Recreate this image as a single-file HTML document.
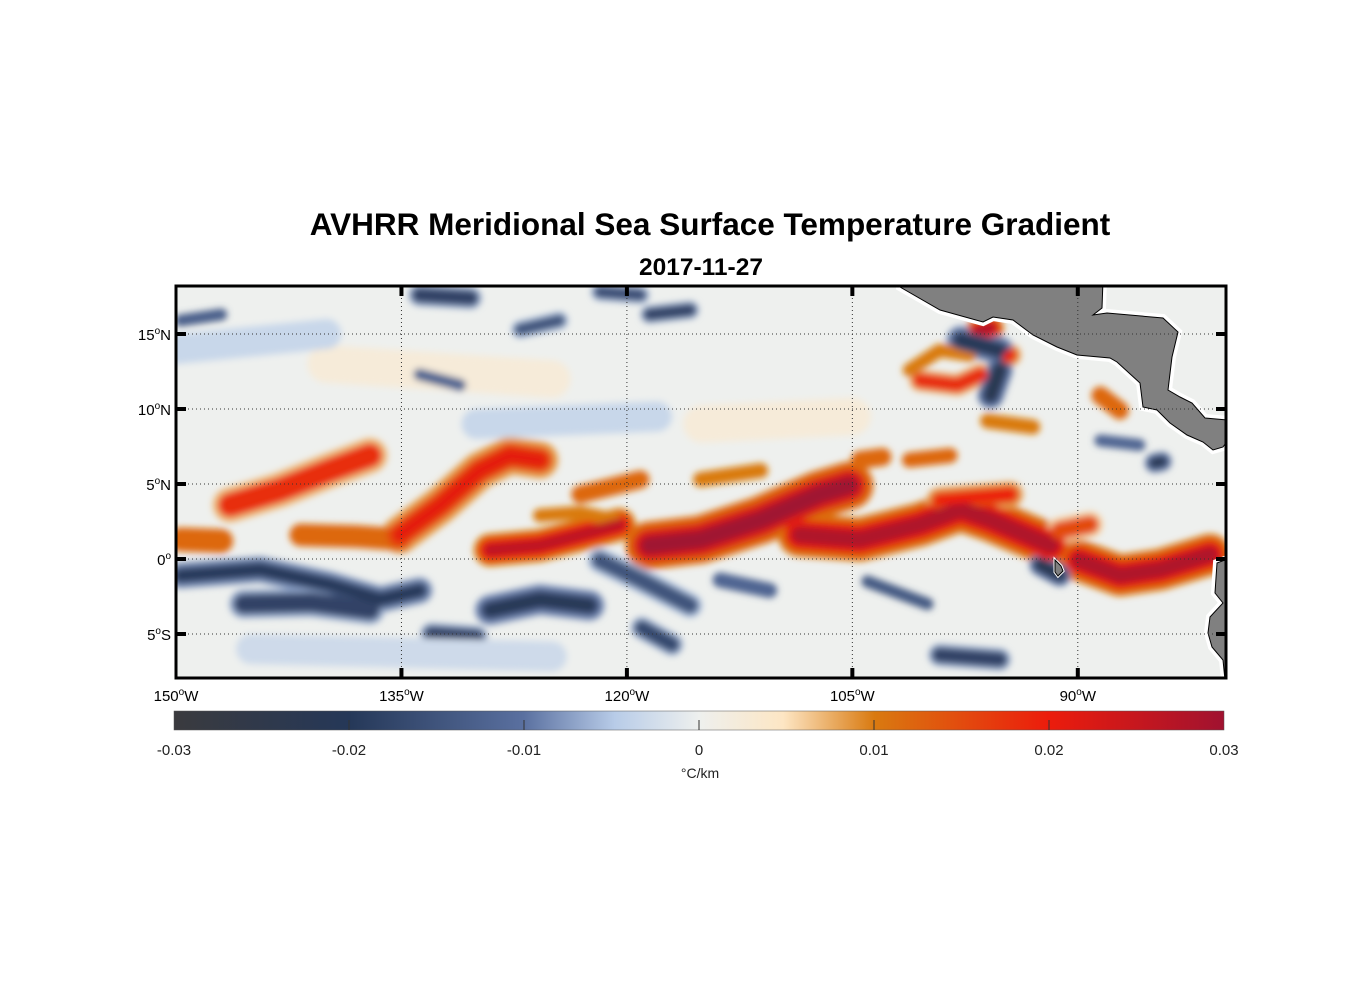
<!DOCTYPE html>
<html><head><meta charset="utf-8">
<style>
body{margin:0;background:#fff;width:1356px;height:1000px;overflow:hidden;font-family:"Liberation Sans",Arial,sans-serif;}
svg text{font-family:"Liberation Sans",Arial,sans-serif;}
</style></head>
<body>
<svg id="chart" width="1356" height="1000" xmlns="http://www.w3.org/2000/svg">
<defs>
<filter id="blur" x="-5%" y="-5%" width="110%" height="110%"><feGaussianBlur stdDeviation="3.5"/></filter>
<clipPath id="mapclip"><rect x="176" y="286" width="1050" height="392"/></clipPath>
<linearGradient id="cbgrad" x1="0" x2="1" y1="0" y2="0">
<stop offset="0" stop-color="#3a3a3e"/>
<stop offset="0.167" stop-color="#253858"/>
<stop offset="0.333" stop-color="#5a70a0"/>
<stop offset="0.42" stop-color="#b8cce8"/>
<stop offset="0.5" stop-color="#eef0ee"/>
<stop offset="0.58" stop-color="#fde6c4"/>
<stop offset="0.667" stop-color="#d97a10"/>
<stop offset="0.833" stop-color="#ec1c0c"/>
<stop offset="1" stop-color="#a01230"/>
</linearGradient>
</defs>
<text x="710" y="235" text-anchor="middle" font-size="31.5" font-weight="bold">AVHRR Meridional Sea Surface Temperature Gradient</text>
<text x="701" y="275" text-anchor="middle" font-size="24.5" font-weight="bold">2017-11-27</text>
<g id="map" clip-path="url(#mapclip)">
<rect x="176" y="286" width="1050" height="392" fill="#eef0ee"/>
<g id="fronts" filter="url(#blur)"></g>
<g id="land"></g>
</g>
<g id="grid"></g>
<rect x="176" y="286" width="1050" height="392" fill="none" stroke="#000" stroke-width="3"/>
<g id="axes"></g>
<rect x="174" y="711" width="1050" height="19" fill="url(#cbgrad)" stroke="#555" stroke-width="0.5"/>
<g id="cbticks"></g>
<text x="700" y="778" text-anchor="middle" font-size="14" fill="#222">°C/km</text>
</svg>
<script>
const lonTicks=[-150,-135,-120,-105,-90];
const lonTickLabels=["150","135","120","105","90"];
const latTicks=[15,10,5,0,-5];
const latTickLabels=["15","10","5","0","5"];
const latTickHemi=["N","N","N","",'S'];
const cbTicks=[-0.03,-0.02,-0.01,0,0.01,0.02,0.03];
const cbTickLabels=["-0.03","-0.02","-0.01","0","0.01","0.02","0.03"];
// front features: value (°C/km), width (deg), path (lon,lat)
const frontValues=[0.012,0.018,0.012,0.021,0.026,0.01,0.012,0.03,0.012,0.01,0.028,0.02,0.028,0.015,0.01,0.018,0.028,0.012,0.02,0.012,0.01,0.0025,0.0025,
 -0.02,-0.018,-0.021,-0.015,-0.012,-0.018,-0.023,-0.021,-0.023,-0.018,-0.016,-0.018,-0.013,-0.012,-0.015,-0.022,-0.012,-0.018,-0.0035,-0.0035,-0.003,-0.017,-0.014];
const frontWidths=[1.6,1.6,1.5,1.7,1.5,0.9,1.2,2.2,1.2,1.0,2.0,1.2,1.9,1.2,0.9,1.0,1.2,1.2,1.0,1.0,1.0,2.5,2.5,
 1.2,1.3,1.4,1.1,1.0,1.0,1.0,1.3,1.2,1.0,0.8,0.8,0.8,0.8,0.8,0.9,0.8,1.0,2.0,2.0,2.0,1.0,0.8];
const frontPaths=[
 [[-149.7,1.3],[-147,1.2]],
 [[-146.4,3.6],[-143.1,4.6],[-139.8,5.9],[-137.1,6.9]],
 [[-141.7,1.6],[-138,1.5],[-135.1,1.3]],
 [[-135.1,1.6],[-132.4,3.6],[-129.8,5.9],[-127.8,6.9],[-125.8,6.6]],
 [[-129.1,0.6],[-125.8,0.9],[-123.1,1.6],[-120.5,2.3]],
 [[-125.8,2.9],[-123.1,3.1],[-120.8,2.6]],
 [[-123.1,4.3],[-119.1,5.3]],
 [[-118.5,0.9],[-115.1,1.3],[-111.1,2.6],[-107.2,4.3],[-105.2,4.9]],
 [[-104.5,6.6],[-103,6.8]],
 [[-115.1,5.3],[-111.1,5.9]],
 [[-108.5,1.6],[-104.5,1.3],[-100.5,2.3],[-97.8,3.3],[-95.8,2.6],[-91.8,0.9]],
 [[-99.2,3.9],[-94.5,4.3]],
 [[-89.9,-0.1],[-87.2,-1.1],[-84.5,-0.7],[-81.2,0.3]],
 [[-91.2,1.9],[-89.2,2.3]],
 [[-101.2,12.6],[-99.2,13.9],[-97.2,13.6]],
 [[-100.5,11.9],[-98,11.6],[-96.5,12.3]],
 [[-96.6,15.2],[-95.8,15.4]],
 [[-88.5,10.9],[-87.2,9.9]],
 [[-94.7,13.5],[-94.5,13.6]],
 [[-101.2,6.6],[-98.5,6.9]],
 [[-96,9.2],[-93,8.8]],
 [[-115,9],[-105,9.5]],
 [[-140,13],[-125,12]],
 [[-149.7,-1.1],[-144.4,-0.7],[-139.8,-1.7],[-136.4,-2.7],[-133.8,-2.1]],
 [[-145.5,-3],[-141,-2.9],[-137.1,-3.4]],
 [[-129.1,-3.4],[-125.8,-2.7],[-122.5,-3.1]],
 [[-121.8,-0.1],[-119.1,-1.4],[-115.8,-3.1]],
 [[-113.8,-1.4],[-110.5,-2.1]],
 [[-99.2,-6.4],[-95.2,-6.7]],
 [[-92.5,-0.4],[-91.2,-1.1]],
 [[-97.8,14.6],[-95.2,13.9]],
 [[-95.2,12.6],[-95.8,10.9]],
 [[-133.8,17.6],[-130.4,17.4]],
 [[-121.8,17.8],[-119.1,17.6]],
 [[-118.5,16.3],[-115.8,16.6]],
 [[-149.7,15.9],[-147,16.3]],
 [[-133.8,12.3],[-131.1,11.6]],
 [[-127.1,15.3],[-124.5,15.9]],
 [[-84.9,6.4],[-84.4,6.5]],
 [[-88.5,7.9],[-85.9,7.6]],
 [[-133,-5],[-130,-5.2]],
 [[-150,14],[-140,15]],
 [[-130,9],[-118,9.5]],
 [[-145,-6],[-125,-6.5]],
 [[-119,-4.6],[-117,-5.7]],
 [[-104,-1.5],[-100,-3]]
];
function colorOf(v){
 const stops=[[-0.03,[58,58,62]],[-0.02,[37,56,88]],[-0.01,[90,112,160]],[-0.005,[184,204,232]],[0,[238,240,238]],[0.005,[253,230,196]],[0.01,[217,122,16]],[0.02,[236,28,12]],[0.03,[160,18,48]]];
 v=Math.max(-0.03,Math.min(0.03,v));
 for(let i=0;i<stops.length-1;i++){const a=stops[i],b=stops[i+1];if(v<=b[0]){const t=(v-a[0])/(b[0]-a[0]);const c=a[1].map((x,k)=>Math.round(x+(b[1][k]-x)*t));return `rgb(${c[0]},${c[1]},${c[2]})`;}}
 return 'rgb(160,18,48)';
}
const X0=176,PX=15.03,Y0=559,PY=15;
function xOf(lon){return X0+(lon+150)*PX;}
function yOf(lat){return Y0-lat*PY;}
function cbX(v){return 174+(v+0.03)/0.06*1050;}
const NS="http://www.w3.org/2000/svg";
const fr=document.getElementById('fronts');
function drawFront(i,v,w,cls){
 const p=document.createElementNS(NS,'polyline');
 p.setAttribute('points',frontPaths[i].map(q=>xOf(q[0])+','+yOf(q[1])).join(' '));
 p.setAttribute('fill','none');p.setAttribute('stroke',colorOf(v));
 p.setAttribute('stroke-width',w*PY);p.setAttribute('stroke-linecap','round');p.setAttribute('stroke-linejoin','round');
 
 
 fr.appendChild(p);
}
frontValues.forEach((v,i)=>{const w=frontWidths[i];if(Math.abs(v)>=0.015)drawFront(i,v*0.4,w*1.45,'front-halo');});
frontValues.forEach((v,i)=>{const w=frontWidths[i];drawFront(i,Math.abs(v)>=0.02?v*0.75:v,w,'front-band');});
frontValues.forEach((v,i)=>{const w=frontWidths[i];if(Math.abs(v)>=0.02)drawFront(i,v,w*0.55,'front-core');});
// land (pixel geometry)
const land=document.getElementById('land');
const landPolys=[
 "900,280 900,287 940,310 983,322 993,317 1013,320 1033,335 1057,347 1077,355 1110,358 1117,362 1140,383 1143,407 1157,410 1170,423 1187,435 1203,442 1213,450 1223,447 1228,440 1228,420 1205,418 1192,403 1180,397 1168,390 1172,357 1178,332 1163,318 1107,313 1093,315 1102,308 1103,280",
 "1230,558 1217,563 1215,593 1223,603 1210,617 1208,633 1212,647 1223,660 1225,680 1230,680",
 "1055,560 1061,566 1063,571 1058,576 1055,572"
];
const haloW=[8,8,3];
landPolys.forEach((pts,i)=>{
 const h=document.createElementNS(NS,'polygon');h.setAttribute('points',pts);h.setAttribute('fill','#fff');h.setAttribute('stroke','#fff');h.setAttribute('stroke-width',haloW[i]);
 
 
 land.appendChild(h);
});
landPolys.forEach((pts,i)=>{
 const p=document.createElementNS(NS,'polygon');p.setAttribute('points',pts);p.setAttribute('fill','#808080');p.setAttribute('stroke','#000');p.setAttribute('stroke-width','1');
 
 
 land.appendChild(p);
});
// grid and axes
const grid=document.getElementById('grid'),axes=document.getElementById('axes');
lonTicks.forEach((lon,i)=>{
 const x=xOf(lon);
 if(i>0){const l=document.createElementNS(NS,'line');l.setAttribute('x1',x);l.setAttribute('x2',x);l.setAttribute('y1',286);l.setAttribute('y2',678);l.setAttribute('stroke','#333');l.setAttribute('stroke-width','1');l.setAttribute('stroke-dasharray','1,3');
 
 
 grid.appendChild(l);
 [[286,296],[668,678]].forEach(r=>{const t=document.createElementNS(NS,'line');t.setAttribute('x1',x);t.setAttribute('x2',x);t.setAttribute('y1',r[0]);t.setAttribute('y2',r[1]);t.setAttribute('stroke','#000');t.setAttribute('stroke-width','4');
 
 
 axes.appendChild(t);});}
 const tx=document.createElementNS(NS,'text');tx.setAttribute('x',x);tx.setAttribute('y',701);tx.setAttribute('text-anchor','middle');tx.setAttribute('font-size','15');
 tx.innerHTML=lonTickLabels[i]+'<tspan dy="-6" font-size="10">o</tspan><tspan dy="6">W</tspan>';
 
 
 axes.appendChild(tx);
});
latTicks.forEach((lat,i)=>{
 const y=yOf(lat);
 const l=document.createElementNS(NS,'line');l.setAttribute('x1',176);l.setAttribute('x2',1226);l.setAttribute('y1',y);l.setAttribute('y2',y);l.setAttribute('stroke','#333');l.setAttribute('stroke-width','1');l.setAttribute('stroke-dasharray','1,3');
 
 
 grid.appendChild(l);
 [[176,186],[1216,1226]].forEach(r=>{const t=document.createElementNS(NS,'line');t.setAttribute('x1',r[0]);t.setAttribute('x2',r[1]);t.setAttribute('y1',y);t.setAttribute('y2',y);t.setAttribute('stroke','#000');t.setAttribute('stroke-width','4');
 
 
 axes.appendChild(t);});
 const tx=document.createElementNS(NS,'text');tx.setAttribute('x',171);tx.setAttribute('y',y+6);tx.setAttribute('text-anchor','end');tx.setAttribute('font-size','15');
 tx.innerHTML=latTickLabels[i]+'<tspan dy="-6" font-size="10">o</tspan><tspan dy="6">'+latTickHemi[i]+'</tspan>';
 
 
 axes.appendChild(tx);
});
const cbt=document.getElementById('cbticks');
cbTicks.forEach((v,i)=>{
 const x=cbX(v);
 if(i>0&&i<cbTicks.length-1){const t=document.createElementNS(NS,'line');t.setAttribute('x1',x);t.setAttribute('x2',x);t.setAttribute('y1',720);t.setAttribute('y2',730);t.setAttribute('stroke','#333');t.setAttribute('stroke-width','1');
 
 
 cbt.appendChild(t);}
 const tx=document.createElementNS(NS,'text');tx.setAttribute('x',x);tx.setAttribute('y',755);tx.setAttribute('text-anchor','middle');tx.setAttribute('font-size','15');tx.setAttribute('fill','#222');
 tx.textContent=cbTickLabels[i];
 
 
 cbt.appendChild(tx);
});
</script>
</body></html>
